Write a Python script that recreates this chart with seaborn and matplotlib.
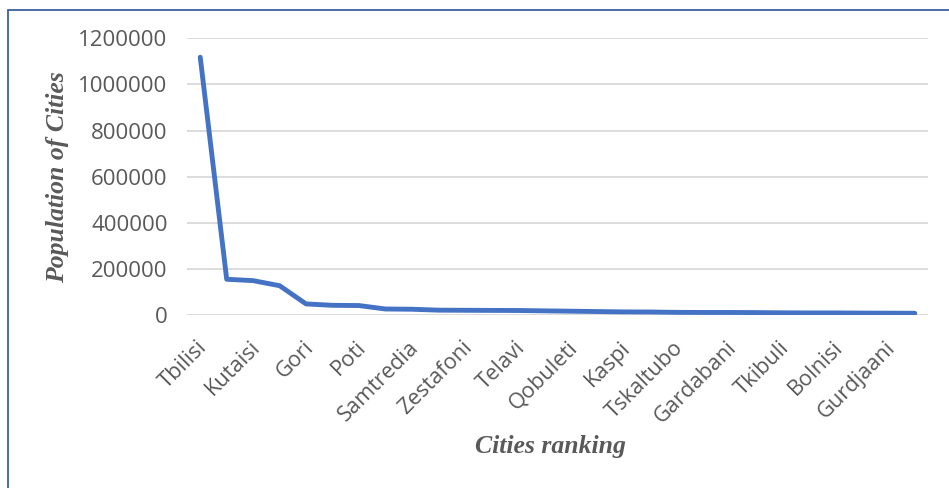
import matplotlib
matplotlib.use("Agg")
import matplotlib.pyplot as plt
import matplotlib.transforms as mtransforms
import seaborn as sns
import pandas as pd
from matplotlib.patches import Rectangle

cities = ["Tbilisi", "Batumi", "Kutaisi", "Rustavi", "Gori", "Zugdidi", "Poti",
          "Khashuri", "Samtredia", "Senaki", "Zestafoni", "Marneuli", "Telavi",
          "Akhaltsikhe", "Qobuleti", "Ozurgeti", "Kaspi", "Chiatura", "Tskaltubo",
          "Sagarejo", "Gardabani", "Borjomi", "Tkibuli", "Khoni", "Bolnisi",
          "Akhalkalaki", "Gurdjaani", "Mtskheta"]
population = [1118000, 155000, 149000, 127000, 48000, 42000, 41000,
              26000, 25000, 21000, 20500, 20000, 19500,
              18000, 16500, 15000, 13500, 13000, 11500,
              11000, 11000, 10500, 9500, 9000, 9000,
              8300, 8000, 7500]
y_ticks = [0, 200000, 400000, 600000, 800000, 1000000, 1200000]

df = pd.DataFrame({"rank": range(len(cities)), "city": cities, "population": population})

sns.set_style("white")
plt.rcParams["font.family"] = ["Open Sans", "DejaVu Sans"]

fig = plt.figure(figsize=(9.49, 4.88), dpi=100)
ax = fig.add_axes([187 / 949, 1 - 315 / 488, (928 - 187) / 949, (315 - 38.3) / 488])

sns.lineplot(data=df, x="rank", y="population", ax=ax, color="#4472C4",
             linewidth=3.5, solid_capstyle="round", solid_joinstyle="round", zorder=3)

ax.set_xlim(-0.5, len(cities) - 0.5)
ax.set_ylim(0, 1200000)
ax.set_yticks(y_ticks)
ax.set_yticklabels([str(v) for v in y_ticks], color="#595959", fontsize=16)
ax.yaxis.grid(True, color="#D9D9D9", linewidth=1.3)
ax.xaxis.grid(False)
for s in ax.spines.values():
    s.set_visible(False)

idx = list(range(0, len(cities), 2))
ax.set_xticks(idx)
ax.set_xticklabels([cities[i] for i in idx], rotation=45, ha="right", va="center",
                   rotation_mode="anchor", color="#595959", fontsize=15.7)
ax.tick_params(axis="x", length=0, pad=19)
ax.tick_params(axis="y", length=0, pad=14)
offset = mtransforms.ScaledTranslation(4 / 100, -3 / 100, fig.dpi_scale_trans)
for lbl in ax.get_xticklabels():
    lbl.set_transform(lbl.get_transform() + offset)

ax.set_xlabel("")
ax.set_ylabel("")
fig.text(550 / 949, 1 - 447 / 488, "Cities ranking", ha="center", va="center",
         family="Liberation Serif", fontweight="bold", fontstyle="italic",
         fontsize=18.5, color="#595959")
fig.text(58 / 949, 1 - 177 / 488, "Population of Cities", ha="center", va="center",
         rotation=90, family="Liberation Serif", fontweight="bold", fontstyle="italic",
         fontsize=18.5, color="#595959")

fig.patches.append(Rectangle((8 / 949, -0.1), 1.2, 1 - 10 / 488 + 0.1,
                             transform=fig.transFigure, fill=False,
                             edgecolor="#3A5F9F", linewidth=1.3))

fig.savefig("out.png", dpi=100)
